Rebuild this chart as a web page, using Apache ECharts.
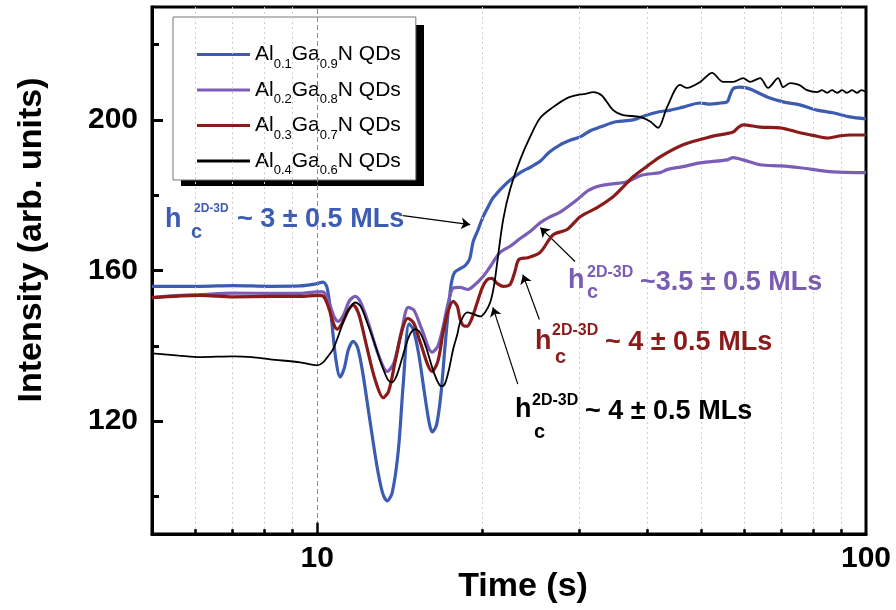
<!DOCTYPE html>
<html>
<head>
<meta charset="utf-8">
<script src="https://cdn.jsdelivr.net/npm/echarts@6/dist/echarts.min.js"></script>
<style>
html,body{margin:0;padding:0;background:#fff;}
#chart{width:896px;height:610px;}
</style>
</head>
<body>
<div id="chart"></div>
<script>
// ---- data ----
const alFrac = ['0.1', '0.2', '0.3', '0.4'];
const gaFrac = ['0.9', '0.8', '0.7', '0.6'];
const seriesNames = alFrac.map((a, i) => 'Al' + a + 'Ga' + gaFrac[i] + 'N QDs');

const blueData = [
  [5.0,155.8],[6.12,155.8],[7.03,156.0],[8.21,155.8],[9.31,155.9],[9.9,156.4],[10.25,156.9],[10.42,155.5],
  [10.6,148],[10.8,137],[11.01,131.7],[11.2,134],[11.4,139],[11.63,141.2],[11.85,139.5],[12.1,133],
  [12.45,121],[12.85,108],[13.15,101],[13.41,98.8],[13.7,101],[14.05,112],[14.35,130],[14.7,145.8],
  [14.95,144.5],[15.3,138],[15.7,127],[16.0,119.5],[16.2,117.1],[16.5,119],[16.8,127],[17.1,140],
  [17.35,150],[17.55,156.5],[17.8,159.5],[18.22,160.5],[18.6,161.3],[18.95,163],[19.24,167.7],[19.6,170.5],
  [20.06,174.3],[20.5,177],[20.92,179.3],[22.18,183.3],[23.43,186.0],[24.5,187.5],[25.48,189.0],[26.5,191.5],
  [27.71,193.4],[28.9,194.6],[30.14,195.5],[31.5,197.2],[32.77,198.1],[35,199.5],[37.63,200.0],[39.91,201.3],
  [41.8,202.1],[44,202.6],[46.42,203.4],[49.86,204.5],[52,204.2],[54.22,204.5],[55.84,204.8],[56.5,206.5],
  [57.26,208.3],[58.96,208.7],[60.5,208.5],[62.27,207.9],[66.03,206.1],[70.63,204.8],[75.8,204.0],[81.41,202.6],
  [87.09,201.9],[93.52,200.8],[100,200.3]
];
const purpleData = [
  [5.0,152.8],[5.5,153.3],[6.12,153.6],[7.03,154.0],[8.21,153.9],[9.31,153.9],[10.0,154.3],[10.25,154.3],
  [10.5,151.5],[10.75,147.5],[10.92,146.5],[11.15,148],[11.45,152],[11.73,153.1],[12.0,151.5],[12.4,146],
  [12.9,138],[13.41,133.2],[13.8,135.5],[14.25,144],[14.65,150.2],[15.0,149.5],[15.5,144.5],[16.2,138.3],
  [16.6,140],[16.96,145],[17.3,151],[17.69,155.3],[18.2,155.5],[18.84,155.0],[19.24,155.8],[20.06,158.4],
  [20.66,161],[21.54,164.8],[22.5,166.5],[23.43,168.5],[24.5,170.5],[25.48,172.7],[26.5,174.2],[27.71,175.5],
  [29.76,178.8],[31.2,181.3],[32.77,182.5],[34.5,183.0],[36.7,183.6],[39.0,185.3],[42.15,186.0],[43.4,186.8],
  [46.4,187.6],[49.86,188.6],[55.84,189.4],[57.26,190.0],[59.71,189.4],[64.12,188.1],[70,187.8],[75.8,187.3],
  [87.09,186.2],[100,186.0]
];
const redData = [
  [5.0,152.8],[6.12,153.4],[7.03,153.0],[8.21,153.1],[9.31,153.1],[10.0,153.4],[10.25,153.2],[10.5,150],
  [10.7,146],[10.87,144.4],[11.1,146],[11.4,149.5],[11.63,150.8],[11.9,148.5],[12.3,140],[12.75,131],
  [13.19,126.2],[13.5,128],[13.9,136.5],[14.3,144.5],[14.62,147.3],[15.0,146],[15.4,141],[16.2,133.2],
  [16.6,136],[16.96,143.6],[17.3,149],[17.69,151.8],[18.0,150.5],[18.22,147.0],[18.5,145.3],[18.76,145.2],
  [19.1,147],[19.57,151.5],[20.0,155.5],[20.4,157.6],[20.8,157.9],[21.3,156.5],[21.82,155.8],[22.46,156.3],
  [22.9,159.5],[23.3,162.9],[24.2,163.4],[25.48,164.8],[26.91,169.5],[28.54,170.9],[30.14,174.3],[32.36,176.7],
  [34.61,179.6],[36.0,182],[37.63,184.9],[40,187.8],[42.15,190.2],[46.42,193.4],[51.99,195.5],[57.26,196.8],
  [58.5,198],[59.71,198.7],[64.12,198.1],[69.74,197.9],[75.8,196.6],[80,195.9],[84.92,195.2],[90,195.8],
  [93.52,196.0],[100,196.0]
];
const blackData = [
  [5.0,138.0],[5.6,137.4],[6.12,137.0],[7.03,137.2],[7.6,137.0],[8.21,136.4],[9.31,135.6],[10.0,134.8],
  [10.25,135.6],[10.5,137.5],[10.69,139.1],[10.92,142.5],[11.15,146.2],[11.4,149.5],[11.73,151.5],[12.0,150.5],
  [12.33,146.2],[12.7,141],[13.1,135],[13.45,131],[13.69,130.3],[13.95,132],[14.3,137],[14.7,142.5],
  [15.08,144.4],[15.4,143.5],[15.8,139.5],[16.3,133],[16.7,129.6],[16.89,129.3],[17.1,130],[17.4,134],
  [17.69,139.1],[18.0,143],[18.22,146.2],[18.76,148.9],[19.2,148.5],[19.81,147.8],[20.2,148.8],[20.66,151.5],
  [21.0,156],[21.28,162.1],[21.82,173.5],[22.46,181.5],[23.43,189.4],[24.43,195.5],[25.48,200.5],[26.91,203.4],
  [28.54,205.8],[29.76,206.6],[30.8,206.9],[31.83,207.4],[33.0,206.5],[34.61,202.6],[36.09,201.3],[38.75,200.8],
  [40.5,199.5],[41.8,197.9],[43.4,203.4],[45.83,209.3],[47.21,208.5],[49.86,210.1],[52.43,212.5],[54.91,210.1],
  [57.26,210.1],[59.71,211.1],[61.5,210.1],[64.12,211.1],[66.3,208.5],[69.16,211.1],[70.63,208.7],[72.7,209.8],
  [75.5,209.3],[78.06,207.9],[81.41,207.4],[83.2,207.9],[84.92,207.2],[86.7,207.9],[88.6,207.2],[90.5,207.9],
  [92.3,207.2],[94.4,207.9],[96.3,207.2],[98.1,207.9],[100,207.4]
];

const xMajorTicks = [10, 100];
const xMinorTicks = [6, 7, 8, 9, 20, 30, 40, 50, 60, 70, 80, 90];
const yLabelTicks = [120, 160, 200];
const yMinorTicks = [100, 140, 180, 220];

const annotTexts = [
  { main: '~ 3 \u00b1 0.5 MLs', color: '#3d5db3' },
  { main: '~3.5 \u00b1 0.5 MLs', color: '#7a5cb2' },
  { main: '~ 4 \u00b1 0.5 MLs', color: '#8b1a1a' },
  { main: '~ 4 \u00b1 0.5 MLs', color: '#000000' }
];

// ---- chart ----
const FF = '"Liberation Sans", Arial, Helvetica, sans-serif';
const colors = ['#3b5cb0', '#7a5db6', '#8b1a1a', '#000000'];
const chart = echarts.init(document.getElementById('chart'), null, { renderer: 'canvas' });

// annotation layout (pixel placement of text labels only)
const annotLayout = [
  { hx: 165, hy: 220, supx: 194, supy: 209, sups: 12, cx: 191, cy: 232, mx: 237, my: 220 },
  { hx: 568, hy: 281, supx: 587, supy: 273, sups: 16, cx: 587, cy: 292, mx: 640, my: 283 },
  { hx: 535, hy: 342, supx: 552, supy: 331, sups: 16, cx: 555, cy: 357, mx: 605, my: 343 },
  { hx: 515, hy: 410, supx: 532, supy: 401, sups: 16, cx: 534, cy: 432, mx: 585, my: 412 }
];
function txt(x, y, text, size, color, align) {
  return {
    type: 'text', x: x, y: y, silent: true, z: 10,
    style: {
      text: text, fill: color, font: 'bold ' + size + 'px ' + FF,
      textAlign: align || 'left', textVerticalAlign: 'middle',
      align: align || 'left', verticalAlign: 'middle'
    }
  };
}
const graphics = [];
// legend drop shadow (decoration behind the legend box)
graphics.push({ type: 'rect', silent: true, z: 3, shape: { x: 181, y: 25, width: 243, height: 161 }, style: { fill: '#000' } });
annotLayout.forEach((L, i) => {
  const c = annotTexts[i].color;
  graphics.push(txt(L.hx, L.hy, 'h', 27, c));
  graphics.push(txt(L.supx, L.supy, '2D-3D', L.sups, c));
  graphics.push(txt(L.cx, L.cy, 'c', 20, c));
  graphics.push(txt(L.mx, L.my, annotTexts[i].main, 27, c));
});
graphics.push(txt(523, 587, 'Time (s)', 34, '#000', 'center'));
const yTitle = txt(32, 240, 'Intensity (arb. units)', 34, '#000', 'center');
yTitle.rotation = Math.PI / 2;
graphics.push(yTitle);

// arrows (in data coordinates)
const arrows = [
  [[14.34, 174.6], [19.0, 172.2]],
  [[29.5, 162.4], [25.5, 171.4]],
  [[25.4, 147.0], [23.7, 158.9]],
  [[23.2, 129.8], [20.9, 150.2]]
];

const gridLines = xMinorTicks.map(t => ({ xAxis: t }));
gridLines.push({ xAxis: 10, lineStyle: { color: '#8a8a8a', type: [5, 3], width: 1 } });

const tickLines = xMinorTicks.map(t => [{ coord: [t, 90] }, { coord: [t, 91.3] }]);
tickLines.push([{ coord: [10, 90] }, { coord: [10, 93] }]);

const dataSets = [blueData, purpleData, redData, blackData];
const series = dataSets.map((d, i) => ({
  name: seriesNames[i],
  type: 'line',
  data: d,
  symbol: 'none',
  showSymbol: false,
  smooth: 0.3,
  z: 4 + i,
  lineStyle: { color: colors[i], width: i === 3 ? 1.8 : 3.2 },
  itemStyle: { color: colors[i] }
}));

series.unshift({
  type: 'line', data: [], silent: true, z: 1, symbol: 'none',
  markLine: {
    silent: true, symbol: 'none', animation: false,
    label: { show: false },
    lineStyle: { color: '#cfcfcf', type: [2, 3], width: 1 },
    data: gridLines
  }
});
series.push({
  type: 'line', data: [], silent: true, z: 9, symbol: 'none',
  markLine: {
    silent: true, symbol: 'none', animation: false,
    label: { show: false },
    lineStyle: { color: '#000', type: 'solid', width: 2.5 },
    data: tickLines
  }
});
series.push({
  type: 'line', data: [], silent: true, z: 9, symbol: 'none',
  markLine: {
    silent: true, animation: false,
    symbol: ['none', 'arrow'], symbolSize: 9,
    label: { show: false },
    lineStyle: { color: '#000', type: 'solid', width: 1.2 },
    data: arrows.map(a => [{ coord: a[0] }, { coord: a[1] }])
  }
});

const option = {
  animation: false,
  backgroundColor: '#fff',
  grid: { left: 152, top: 7, width: 714, height: 527, show: true, borderColor: '#000', borderWidth: 3, backgroundColor: 'transparent' },
  legend: {
    data: seriesNames.map((n, i) => ({ name: n, itemStyle: { color: colors[i] } })),
    orient: 'vertical',
    left: 173, top: 17, z: 4,
    padding: [27, 15, 3, 24],
    itemGap: 9,
    icon: 'rect',
    itemWidth: 53, itemHeight: 3,
    selectedMode: false,
    backgroundColor: '#fff',
    borderColor: '#777', borderWidth: 1,
    formatter: name => {
      const i = seriesNames.indexOf(name);
      return '{m|Al}{s|' + alFrac[i] + '}{m|Ga}{s|' + gaFrac[i] + '}{m|N QDs}';
    },
    textStyle: {
      color: '#000',
      rich: {
        m: { fontSize: 21, lineHeight: 32, fontFamily: FF, color: '#000' },
        s: { fontSize: 13, verticalAlign: 'bottom', fontFamily: FF, color: '#000' }
      }
    }
  },
  xAxis: {
    type: 'log', logBase: 10, min: 5, max: 100,
    axisLine: { show: true, lineStyle: { color: '#000', width: 3 } },
    axisTick: { show: false },
    minorTick: { show: false },
    splitLine: { show: false },
    axisLabel: {
      color: '#000', fontSize: 30, fontWeight: 'bold', fontFamily: FF, margin: 10,
      formatter: v => {
        const r = Math.round(v);
        return (Math.abs(v - r) < 1e-6 && xMajorTicks.indexOf(r) >= 0) ? String(r) : '';
      }
    }
  },
  yAxis: [
    {
      type: 'value', min: 90, max: 230,
      axisLine: { show: true, lineStyle: { color: '#000', width: 3 } },
      axisTick: { show: true, inside: true, length: 11, lineStyle: { color: '#000', width: 3 }, customValues: yLabelTicks },
      axisLabel: { customValues: yLabelTicks, color: '#000', fontSize: 30, fontWeight: 'bold', fontFamily: FF, margin: 14 },
      splitLine: { show: false }
    },
    {
      type: 'value', min: 90, max: 230, position: 'left',
      axisLine: { show: false },
      axisTick: { show: true, inside: true, length: 7, lineStyle: { color: '#000', width: 3 }, customValues: yMinorTicks },
      axisLabel: { show: false },
      splitLine: { show: false }
    }
  ],
  series: series,
  graphic: graphics
};
chart.setOption(option);
</script>
</body>
</html>
